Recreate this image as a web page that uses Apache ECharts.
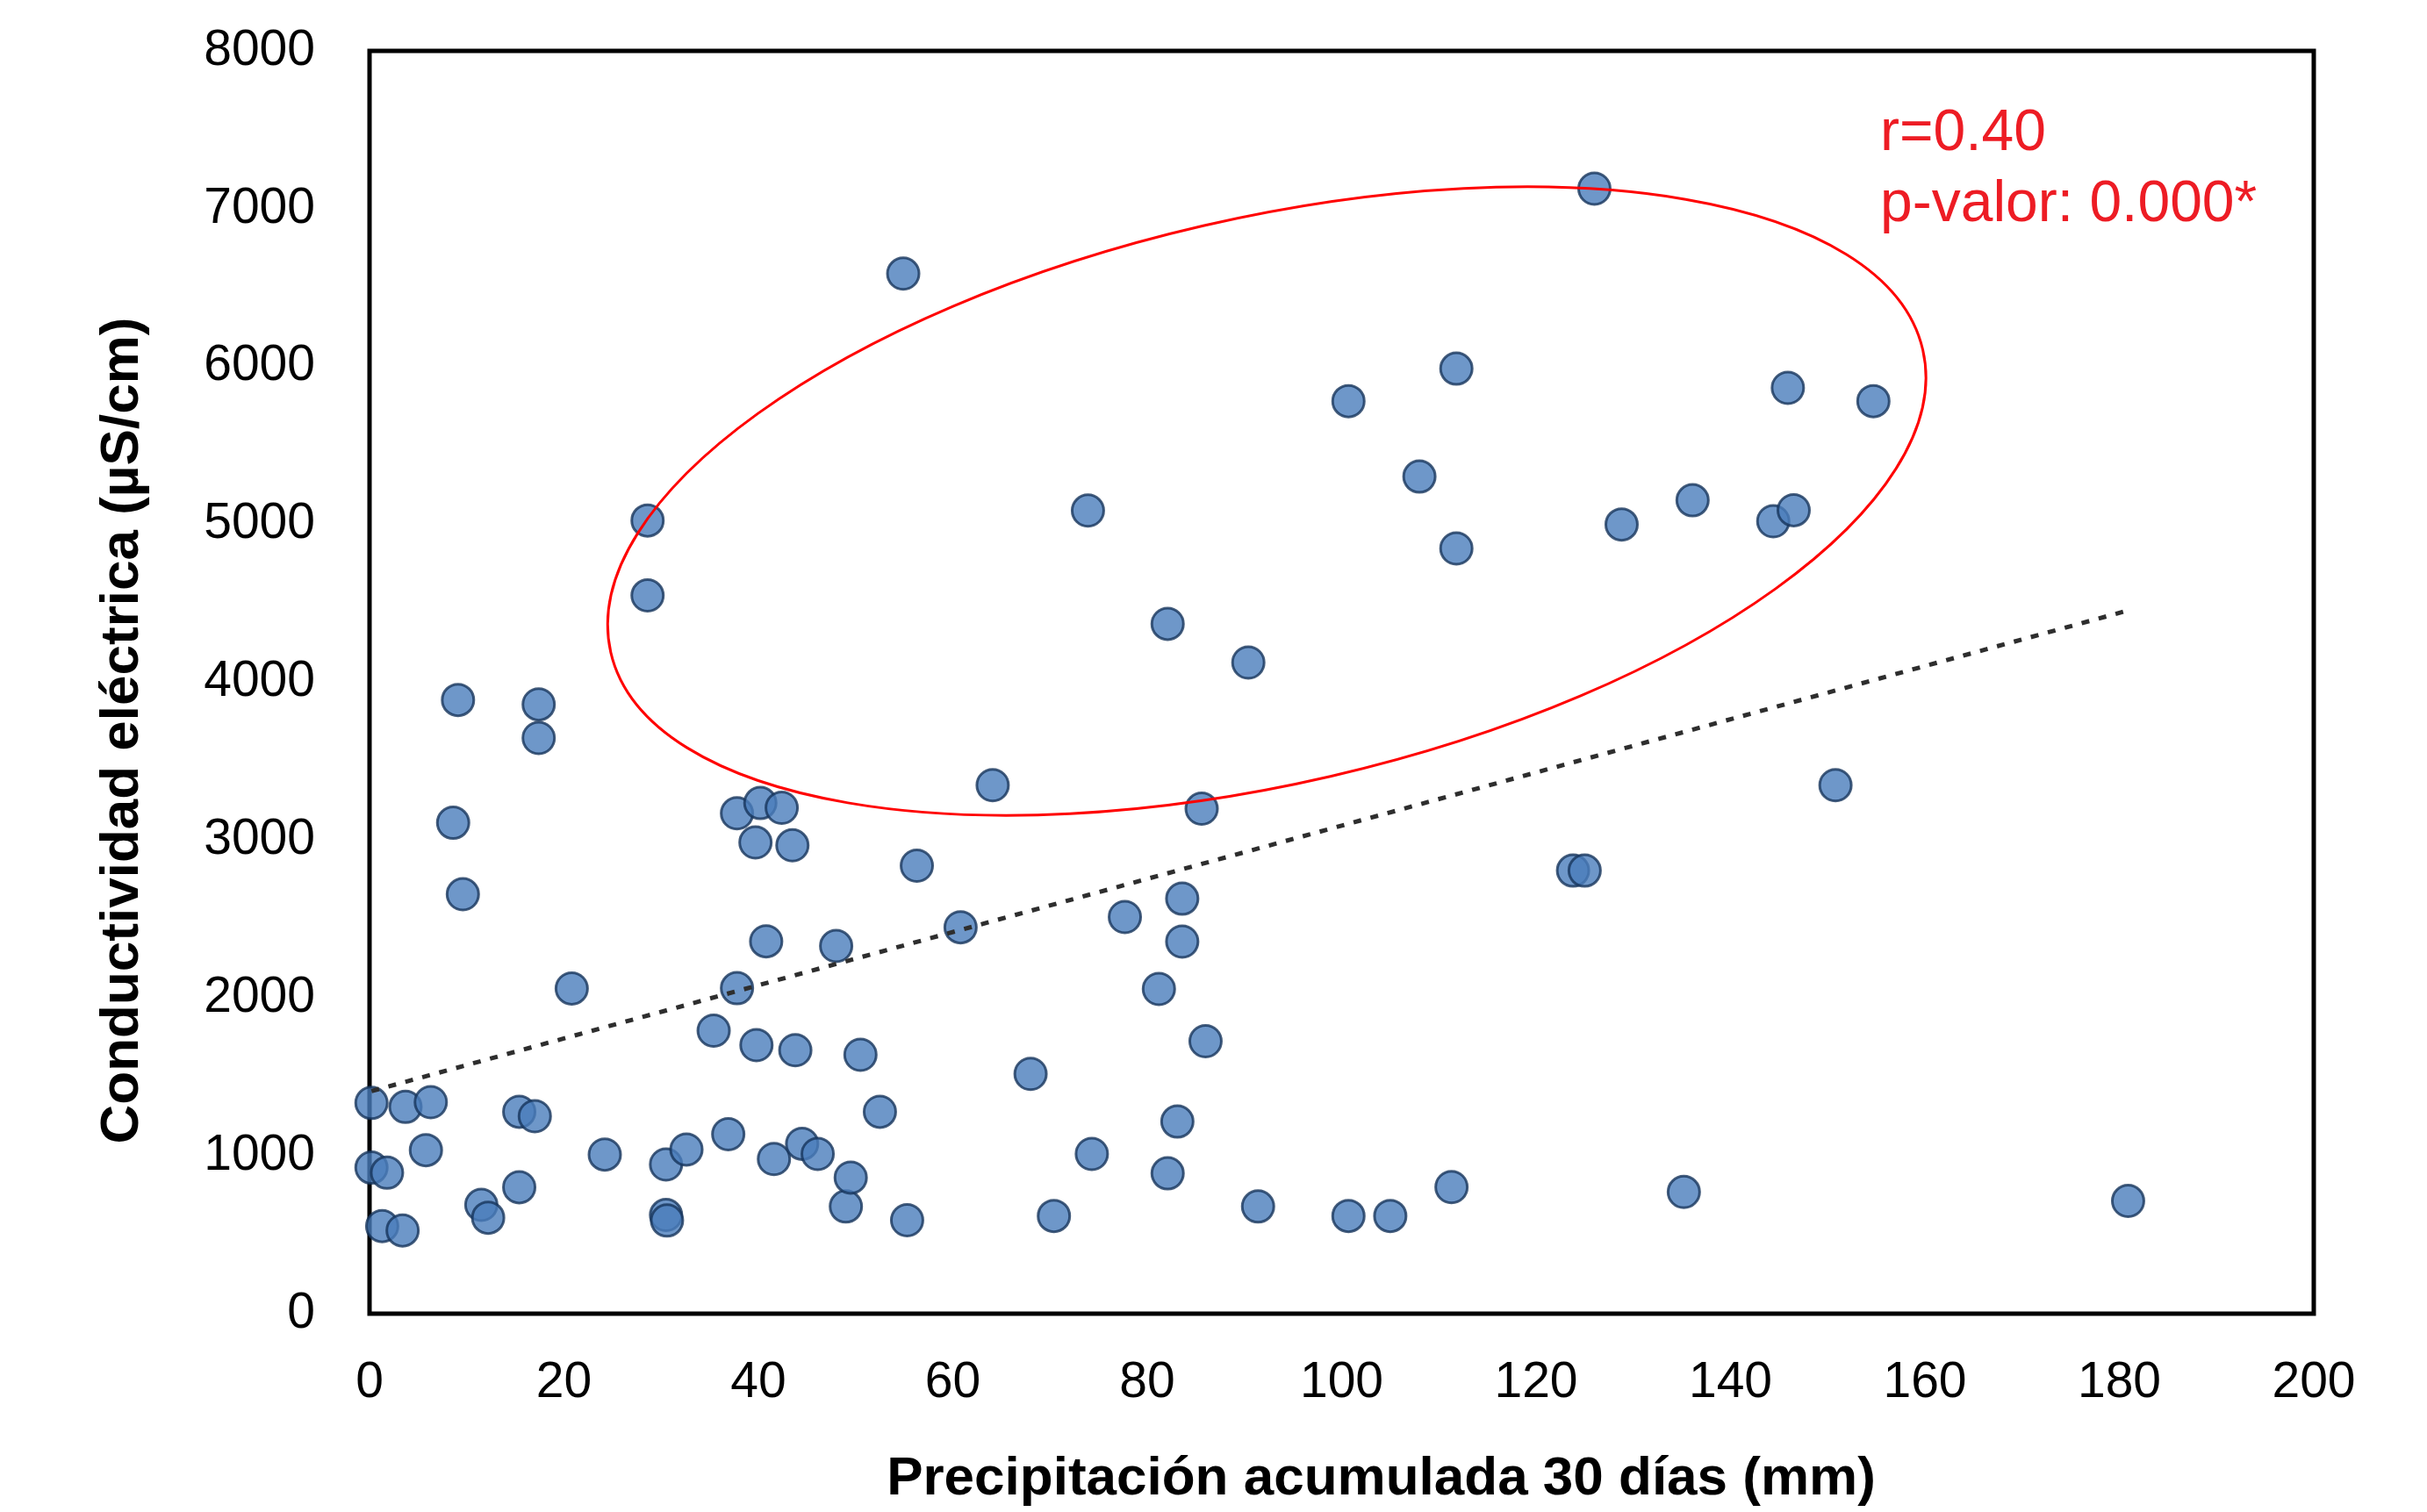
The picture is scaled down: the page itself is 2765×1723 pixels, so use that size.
<!DOCTYPE html>
<html>
<head>
<meta charset="utf-8">
<title>Conductividad eléctrica vs precipitación</title>
<script src="https://cdn.jsdelivr.net/npm/echarts@6/dist/echarts.min.js"></script>
<style>
  html, body { margin: 0; padding: 0; background: #fff; }
  #chart { width: 2765px; height: 1723px; }
</style>
</head>
<body>
<div id="chart"></div>
<script>
// precipitación acumulada 30 días (mm)
var precipitation = [
  0.2, 0.2, 1.8, 1.3, 3.4, 3.7, 6.3, 5.8, 8.6, 9.1,
  9.6, 11.5, 12.2, 15.4, 15.4, 17.0, 17.4, 17.4, 20.8, 24.2,
  28.6, 28.6, 30.5, 30.5, 30.6, 32.6, 35.4, 36.9, 37.8, 37.8,
  39.7, 40.2, 39.8, 40.8, 41.6, 42.4, 43.5, 43.8, 44.5, 46.1,
  48.0, 49.0, 49.5, 50.5, 52.5, 54.9, 55.3, 56.3, 60.8, 64.1,
  68.0, 70.4, 73.9, 74.3, 77.7, 81.2, 82.1, 82.1, 83.1, 83.6,
  83.6, 85.6, 86.0, 90.4, 91.4, 100.7, 100.7, 105.0, 108.0, 111.3,
  111.8, 111.8, 126.0, 123.8, 125.0, 128.8, 135.2, 136.1, 144.4, 145.9,
  146.5, 150.8, 154.7, 180.9
];
// conductividad eléctrica (µS/cm)
var conductivity = [
  1335, 925, 893, 555, 527, 1310, 1340, 1036, 3110, 3888,
  2657, 689, 608, 1279, 801, 1251, 3860, 3647, 2060, 1008,
  5025, 4550, 945, 625, 590, 1040, 1793, 1137, 3170, 2062,
  2985, 3235, 1701, 2359, 980, 3205, 2967, 1669, 1076, 1012,
  2329, 679, 862, 1640, 1279, 6589, 592, 2838, 2448, 3348,
  1519, 619, 5088, 1012, 2513, 2057, 4370, 889, 1217, 2629,
  2357, 3199, 1726, 4125, 679, 5781, 619, 619, 5303, 802,
  5987, 4848, 7127, 2807, 2807, 5000, 771, 5153, 5020, 5865,
  5090, 3348, 5781, 714
];
// línea de tendencia (extremos)
var trendX = [0.2, 180.9];
var trendY = [1410, 4455];

var statsText = ['r=0.40', 'p-valor: 0.000*'];
// centro de la elipse roja, en unidades de datos
var ellipseCenter = [92.3, 5148];

var font = 'Liberation Sans, Arial, sans-serif';
var chart = echarts.init(document.getElementById('chart'));

var points = precipitation.map(function (x, i) {
  return [x, conductivity[i]];
});
var trend = trendX.map(function (x, i) {
  return [x, trendY[i]];
});

var option = {
  animation: false,
  backgroundColor: '#fff',
  grid: {
    left: 421,
    right: 129,
    top: 58,
    bottom: 226,
    show: true,
    borderColor: '#000',
    borderWidth: 5
  },
  xAxis: {
    type: 'value',
    min: 0,
    max: 200,
    interval: 20,
    name: 'Precipitación acumulada 30 días (mm)',
    nameLocation: 'middle',
    nameGap: 158,
    nameTextStyle: {
      fontFamily: font,
      fontSize: 62,
      fontWeight: 'bold',
      color: '#000',
      padding: [0, 0, 0, 90]
    },
    axisLine: { show: false },
    axisTick: { show: false },
    splitLine: { show: false },
    axisLabel: { fontFamily: font, fontSize: 57, color: '#000', margin: 51 }
  },
  yAxis: {
    type: 'value',
    min: 0,
    max: 8000,
    interval: 1000,
    name: 'Conductividad eléctrica (µS/cm)',
    nameLocation: 'middle',
    nameGap: 250,
    nameTextStyle: {
      fontFamily: font,
      fontSize: 62,
      fontWeight: 'bold',
      color: '#000',
      padding: [0, 110, 0, 0]
    },
    axisLine: { show: false },
    axisTick: { show: false },
    splitLine: { show: false },
    axisLabel: {
      fontFamily: font,
      fontSize: 57,
      color: '#000',
      margin: 62,
      formatter: function (v) { return String(v); }
    }
  },
  series: [
    {
      type: 'scatter',
      data: points,
      symbolSize: 36,
      itemStyle: { color: '#4a7dbb', borderColor: '#17355b', borderWidth: 3 },
      z: 2
    },
    {
      type: 'line',
      data: trend,
      symbol: 'none',
      silent: true,
      lineStyle: { color: '#2e2e2e', width: 5, type: [9, 11] },
      z: 3
    }
  ]
};
chart.setOption(option);

// elipse y texto de anotación
var c = chart.convertToPixel({ gridIndex: 0 }, ellipseCenter);
chart.setOption({
  graphic: [
    {
      type: 'ellipse',
      x: c[0],
      y: c[1],
      rotation: 13 * Math.PI / 180,
      shape: { cx: 0, cy: 0, rx: 767, ry: 322 },
      style: { fill: 'none', stroke: '#ff0000', lineWidth: 3 },
      z: 10
    },
    {
      type: 'text',
      left: 2142,
      top: 112,
      style: {
        text: statsText.join('\n'),
        fill: '#ed1c24',
        fontFamily: font,
        fontSize: 66,
        lineHeight: 81
      },
      z: 10
    }
  ]
});
</script>
</body>
</html>
